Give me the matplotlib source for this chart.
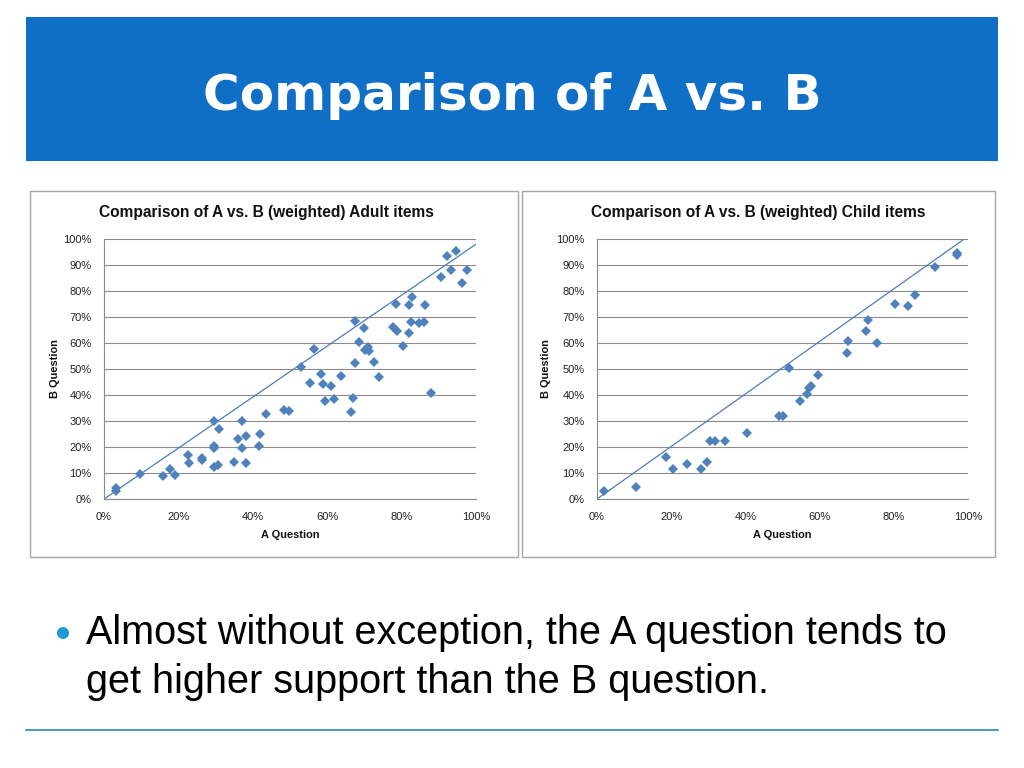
import matplotlib.pyplot as plt
from matplotlib.patches import Rectangle, Ellipse
from matplotlib.lines import Line2D

# data (percent)
adult_a = [3.2, 3.2, 9.7, 15.9, 17.7, 19.0, 22.6, 22.8, 26.3, 26.3, 29.6, 29.6, 29.6,
           29.6, 30.6, 30.9, 34.9, 36.0, 37.0, 37.0, 38.2, 38.2, 41.7, 41.9, 43.5,
           48.4, 49.7, 53.0, 55.4, 56.5, 58.3, 58.9, 59.4, 61.0, 61.8, 63.7, 66.4,
           66.9, 67.5, 67.5, 68.5, 69.9, 70.2, 71.0, 71.2, 72.6, 73.9, 77.7, 78.5,
           78.8, 80.4, 82.0, 82.0, 82.5, 82.8, 84.7, 86.0, 86.3, 87.9, 90.6, 92.2,
           93.3, 94.6, 96.2, 97.6]
adult_b = [4.2, 3.1, 9.6, 8.8, 11.5, 9.2, 16.9, 13.8, 15.8, 15.0, 30.0, 20.4, 19.6,
           12.3, 13.0, 26.9, 14.2, 23.0, 30.0, 19.6, 24.2, 13.8, 20.4, 25.0, 32.7,
           34.2, 33.8, 50.8, 44.6, 57.7, 48.0, 44.2, 37.7, 43.5, 38.5, 47.3, 33.5,
           38.8, 68.5, 52.3, 60.4, 65.8, 57.3, 58.5, 56.9, 52.7, 46.9, 66.2, 75.0,
           64.6, 58.8, 74.6, 63.8, 68.0, 77.7, 67.7, 68.0, 74.6, 40.8, 85.4, 93.5,
           88.0, 95.4, 83.0, 88.0]

child_a = [1.9, 10.5, 18.6, 20.5, 24.3, 28.0, 29.6, 30.5, 31.8, 34.5, 40.4, 49.0,
           50.1, 51.8, 54.7, 56.6, 57.1, 57.7, 59.6, 67.4, 67.7, 72.5, 73.0, 75.5,
           80.3, 83.8, 85.7, 91.1, 97.0, 97.0]
child_b = [3.1, 4.6, 16.2, 11.5, 13.5, 11.5, 14.2, 22.3, 22.3, 22.3, 25.4, 31.9,
           31.9, 50.4, 37.7, 40.4, 42.7, 43.5, 47.7, 56.2, 60.8, 64.6, 68.8, 60.0,
           75.0, 74.2, 78.5, 89.2, 93.8, 94.6]

# reference lines as drawn in the charts
adult_line_x = [0, 100]
adult_line_y = [0, 98]
child_line_x = [0, 99]
child_line_y = [0, 100]

ticks = [0, 20, 40, 60, 80, 100]
yticks = [0, 10, 20, 30, 40, 50, 60, 70, 80, 90, 100]

W, H = 1024, 768
BLUE = '#4f81bd'
GRID = '#8c8c8c'


def fx(px):
    return px / W


def fy(py):
    return 1 - py / H


fig = plt.figure(figsize=(10.24, 7.68), dpi=100)

# title banner
fig.patches.append(Rectangle((fx(26), fy(161)), fx(998) - fx(26), fy(17) - fy(161),
                             transform=fig.transFigure, facecolor='#0f6fc6',
                             edgecolor='none', zorder=0))
fig.text(fx(512), fy(96), 'Comparison of A vs. B', color='white', fontsize=36,
         fontweight='bold', family='DejaVu Sans', ha='center', va='center')

# chart panel frames
for x0, x1 in [(30, 518), (522, 995)]:
    fig.patches.append(Rectangle((fx(x0), fy(557)), fx(x1) - fx(x0), fy(191) - fy(557),
                                 transform=fig.transFigure, facecolor='white',
                                 edgecolor='#a6a6a6', linewidth=1, zorder=0))


def scatter_panel(left_px, right_px, xs, ys, lx, ly, title, ylab_px):
    ax = fig.add_axes([fx(left_px), fy(499), fx(right_px) - fx(left_px), fy(239) - fy(499)],
                      zorder=2)
    ax.patch.set_alpha(0)
    ax.plot(lx, ly, color='#4a7ebb', linewidth=0.9, zorder=2)
    ax.plot(xs, ys, 'D', color=BLUE, markersize=4.8, markeredgewidth=0, zorder=3)
    ax.set_xlim(0, 100)
    ax.set_ylim(0, 100)
    ax.set_xticks(ticks)
    ax.set_xticklabels([f'{t}%' for t in ticks])
    ax.set_yticks(yticks)
    ax.set_yticklabels([f'{t}%' for t in yticks])
    ax.tick_params(length=0, labelsize=8, colors='#222222', pad=9)
    for lbl in ax.get_xticklabels() + ax.get_yticklabels():
        lbl.set_family('Liberation Sans')
    ax.grid(axis='y', color=GRID, linewidth=0.8)
    ax.set_axisbelow(True)
    for s in ['top', 'right']:
        ax.spines[s].set_visible(False)
    for s in ['left', 'bottom']:
        ax.spines[s].set_color(GRID)
        ax.spines[s].set_linewidth(0.8)
    cx = (left_px + right_px) / 2
    fig.text(fx(cx - 24), fy(212), title, fontsize=11.2, fontweight='bold',
             family='Liberation Sans', ha='center', va='center', color='#111111')
    fig.text(fx(cx), fy(535), 'A Question', fontsize=7.9, fontweight='bold',
             family='Liberation Sans', ha='center', va='center', color='#111111')
    fig.text(fx(ylab_px), fy(369), 'B Question', fontsize=7.9, fontweight='bold',
             family='Liberation Sans', ha='center', va='center', rotation=90,
             color='#111111')
    return ax


scatter_panel(104, 476, adult_a, adult_b, adult_line_x, adult_line_y,
              'Comparison of A vs. B (weighted) Adult items', 55)
scatter_panel(597, 968, child_a, child_b, child_line_x, child_line_y,
              'Comparison of A vs. B (weighted) Child items', 546)

# bullet text
fig.patches.append(Ellipse((fx(63), fy(633)), 12 / W, 12 / H, transform=fig.transFigure,
                           facecolor='#1f9ad6', edgecolor='none'))
fig.text(fx(86), fy(633), 'Almost without exception, the A question tends to',
         fontsize=28.5, family='Liberation Sans', ha='left', va='center', color='black')
fig.text(fx(86), fy(682), 'get higher support than the B question.',
         fontsize=28.5, family='Liberation Sans', ha='left', va='center', color='black')

# bottom rule
fig.lines.append(Line2D([fx(26), fx(998)], [fy(730), fy(730)], transform=fig.transFigure,
                        color='#2e86a8', linewidth=1.2))

fig.savefig('out.png', dpi=100)
